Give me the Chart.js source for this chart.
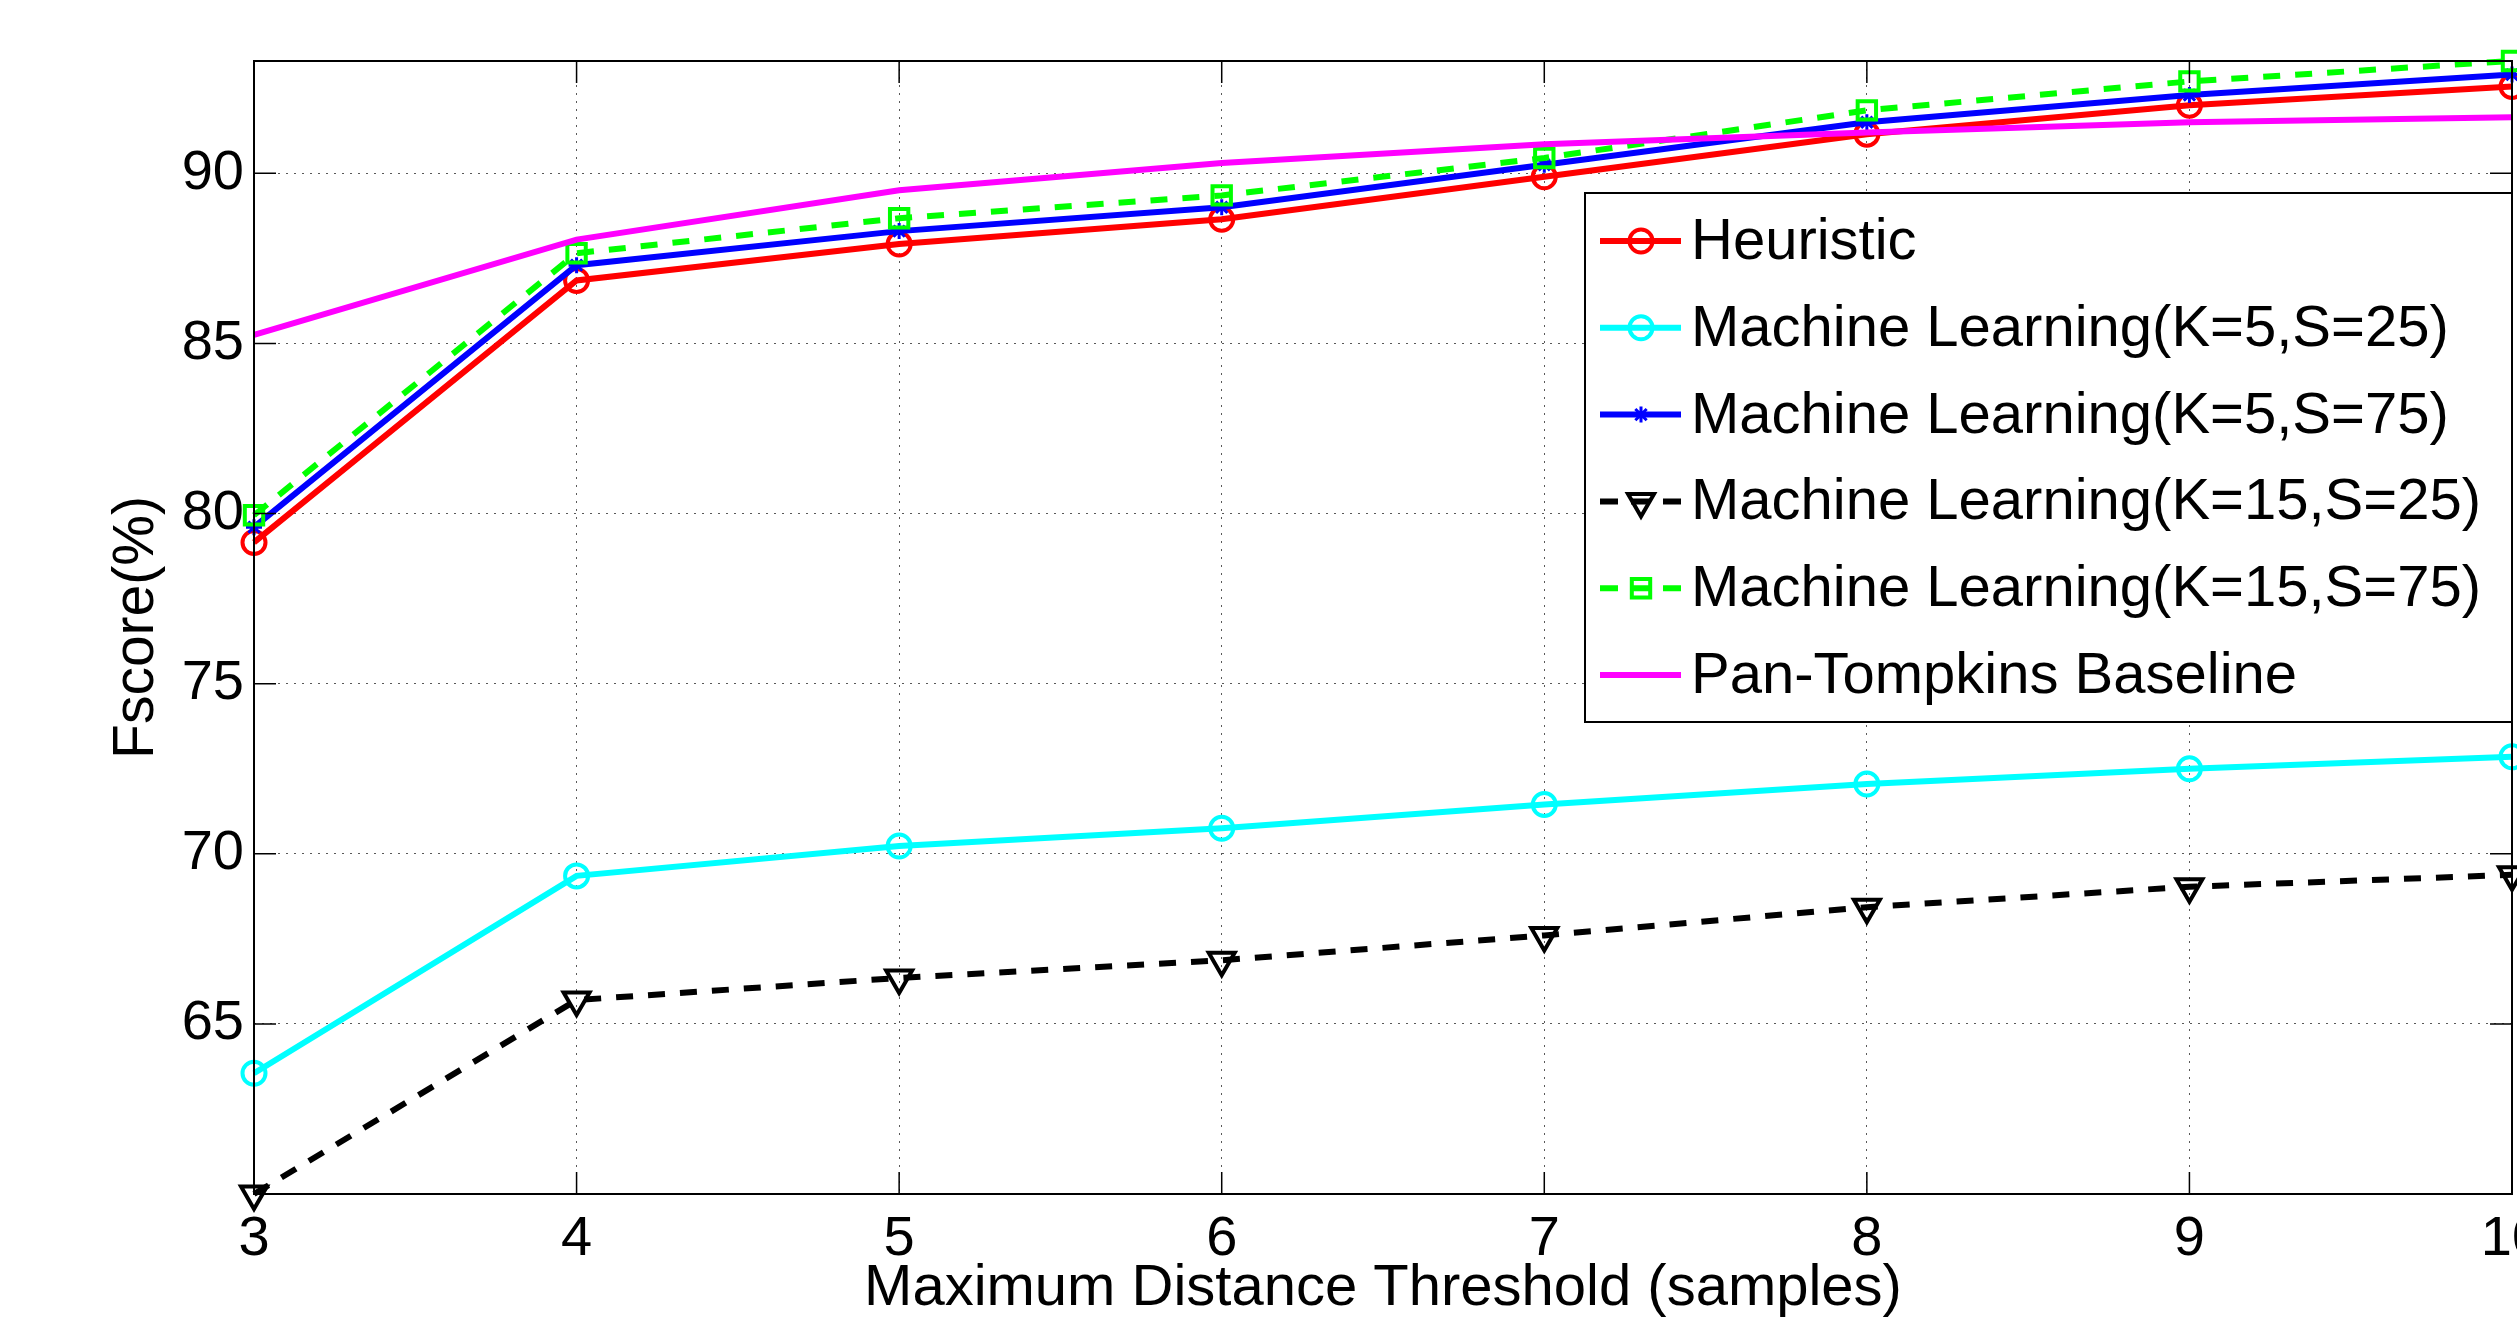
<!DOCTYPE html>
<html>
<head>
<meta charset="utf-8">
<title>Fscore x Maximum Distance Threshold</title>
<script src="https://cdn.jsdelivr.net/npm/chart.js@4.4.1/dist/chart.umd.min.js"></script>
<style>
  html, body { margin: 0; padding: 0; background: #fff; overflow: hidden; }
  #grafico { display: block; }
</style>
</head>
<body>
<canvas id="grafico" width="2517" height="1318"></canvas>
<script>
// ---------------- DATA ----------------
const thresholds = ['3', '4', '5', '6', '7', '8', '9', '10'];

const heuristic   = [79.15, 86.85, 87.92, 88.65, 89.90, 91.15, 92.00, 92.55];
const mlK5S25     = [63.55, 69.35, 70.23, 70.75, 71.45, 72.05, 72.50, 72.85];
const mlK5S75     = [79.60, 87.30, 88.30, 89.00, 90.25, 91.50, 92.30, 92.90];
const mlK15S25    = [60.00, 65.70, 66.35, 66.87, 67.60, 68.43, 69.03, 69.38];
const mlK15S75    = [79.95, 87.65, 88.68, 89.35, 90.45, 91.85, 92.70, 93.30];
const panTompkins = [85.25, 88.05, 89.50, 90.30, 90.85, 91.20, 91.50, 91.65];

const yTicks = [65, 70, 75, 80, 85, 90];
const yMin = 60;
const yMax = 93.3;

// ---------------- STYLE ----------------
const FONTE = '"Liberation Sans", Arial, Helvetica, sans-serif';
Chart.defaults.font.family = FONTE;
Chart.defaults.color = '#000';

function serie(label, data, cor, extra) {
  return Object.assign({
    label,
    data,
    borderColor: cor,
    pointBorderColor: cor,
    pointBackgroundColor: 'rgba(0,0,0,0)',
    borderWidth: 6,
    tension: 0,
    fill: false,
    clip: false
  }, extra);
}

const datasets = [
  serie('Heuristic', heuristic, '#ff0000', { pointStyle: 'circle', pointRadius: 11.5, pointBorderWidth: 4 }),
  serie('Machine Learning(K=5,S=25)', mlK5S25, '#00ffff', { pointStyle: 'circle', pointRadius: 11.5, pointBorderWidth: 4 }),
  serie('Machine Learning(K=5,S=75)', mlK5S75, '#0000ff', { pointStyle: 'star', pointRadius: 8, pointBorderWidth: 3 }),
  serie('Machine Learning(K=15,S=25)', mlK15S25, '#000000', { pointStyle: 'triangle', pointRotation: 180, pointRadius: 15, pointBorderWidth: 4, borderDash: [17, 15] }),
  serie('Machine Learning(K=15,S=75)', mlK15S75, '#00ff00', { pointStyle: 'rect', pointRadius: 13, pointBorderWidth: 4, borderDash: [17, 15] }),
  serie('Pan-Tompkins Baseline', panTompkins, '#ff00ff', { pointRadius: 0 })
];
// matlab draws the last series on top
datasets.forEach((d, i) => { d.order = datasets.length - i; });

// ---------------- AXES BOX + INWARD TICKS ----------------
const moldura = {
  id: 'moldura',
  afterDatasetsDraw(chart) {
    const { ctx, chartArea: a, scales: { x, y } } = chart;
    const tam = 22;
    ctx.save();
    ctx.setLineDash([]);
    ctx.strokeStyle = '#000';
    ctx.lineWidth = 1.5;
    ctx.beginPath();
    x.ticks.forEach((t, i) => {
      const px = x.getPixelForTick(i);
      ctx.moveTo(px, a.bottom); ctx.lineTo(px, a.bottom - tam);
      ctx.moveTo(px, a.top);    ctx.lineTo(px, a.top + tam);
    });
    yTicks.forEach(v => {
      const py = y.getPixelForValue(v);
      ctx.moveTo(a.left, py);  ctx.lineTo(a.left + tam, py);
      ctx.moveTo(a.right, py); ctx.lineTo(a.right - tam, py);
    });
    ctx.stroke();
    ctx.lineWidth = 2;
    ctx.strokeRect(a.left, a.top, a.right - a.left, a.bottom - a.top);
    ctx.restore();
  }
};

// ---------------- LEGEND (inside the axes, right side) ----------------
const legenda = {
  id: 'legenda',
  afterDraw(chart) {
    const { ctx, chartArea: a } = chart;
    const larg = 927, alt = 529;
    const x0 = a.right - larg;
    const y0 = a.top + 132;

    ctx.save();
    ctx.fillStyle = '#fff';
    ctx.fillRect(x0, y0, larg, alt);
    ctx.strokeStyle = '#000';
    ctx.lineWidth = 2;
    ctx.setLineDash([]);
    ctx.strokeRect(x0, y0, larg, alt);

    ctx.font = '58px ' + FONTE;
    ctx.textBaseline = 'middle';
    ctx.textAlign = 'left';

    chart.data.datasets.forEach((ds, i) => {
      const cy = y0 + 48 + i * 86.8;

      ctx.strokeStyle = ds.borderColor;
      ctx.lineWidth = ds.borderWidth;
      ctx.setLineDash(ds.borderDash ? [18, 13, 19, 13, 18, 0] : []);
      ctx.beginPath();
      ctx.moveTo(x0 + 15, cy);
      ctx.lineTo(x0 + 96, cy);
      ctx.stroke();
      ctx.setLineDash([]);

      if (ds.pointRadius > 0) {
        ctx.fillStyle = ds.pointBackgroundColor;
        ctx.strokeStyle = ds.pointBorderColor;
        ctx.lineWidth = ds.pointBorderWidth;
        Chart.helpers.drawPoint(ctx, {
          pointStyle: ds.pointStyle,
          rotation: ds.pointRotation || 0,
          radius: ds.pointRadius,
          borderWidth: ds.pointBorderWidth
        }, x0 + 56, cy);
      }

      ctx.fillStyle = '#000';
      ctx.fillText(ds.label, x0 + 106, cy + 2);
    });
    ctx.restore();
  }
};

// ---------------- CHART ----------------
const ctx = document.getElementById('grafico');

new Chart(ctx, {
  type: 'line',
  data: { labels: thresholds, datasets },
  plugins: [moldura, legenda],
  options: {
    responsive: false,
    devicePixelRatio: 1,
    animation: false,
    events: [],
    layout: { autoPadding: false, padding: { top: 61, right: 5, left: 0, bottom: 0 } },
    plugins: {
      legend: { display: false },
      tooltip: { enabled: false }
    },
    scales: {
      x: {
        type: 'category',
        offset: false,
        grid: { color: 'rgba(0,0,0,0.65)', lineWidth: 1, drawTicks: false },
        border: { display: false, dash: [2, 6] },
        ticks: { font: { size: 56 }, padding: 12, maxRotation: 0, autoSkip: false },
        title: {
          display: true,
          text: 'Maximum Distance Threshold (samples)',
          font: { size: 58, lineHeight: 1 },
          padding: { top: 0, bottom: 0 }
        },
        afterFit(s) {
          s.height = 124;
          s.paddingLeft = 0;
          s.paddingRight = 0;
        }
      },
      y: {
        type: 'linear',
        min: yMin,
        max: yMax,
        grid: { color: 'rgba(0,0,0,0.65)', lineWidth: 1, drawTicks: false },
        border: { display: false, dash: [2, 6] },
        ticks: { font: { size: 56 }, padding: 10 },
        afterBuildTicks(s) {
          s.ticks = yTicks.map(v => ({ value: v }));
        },
        title: {
          display: true,
          text: 'Fscore(%)',
          font: { size: 57, lineHeight: 1.2 },
          padding: { top: 103, bottom: 0 }
        },
        afterFit(s) {
          s.width = 254;
          s.paddingTop = 0;
          s.paddingBottom = 0;
        }
      }
    }
  }
});
</script>
</body>
</html>
